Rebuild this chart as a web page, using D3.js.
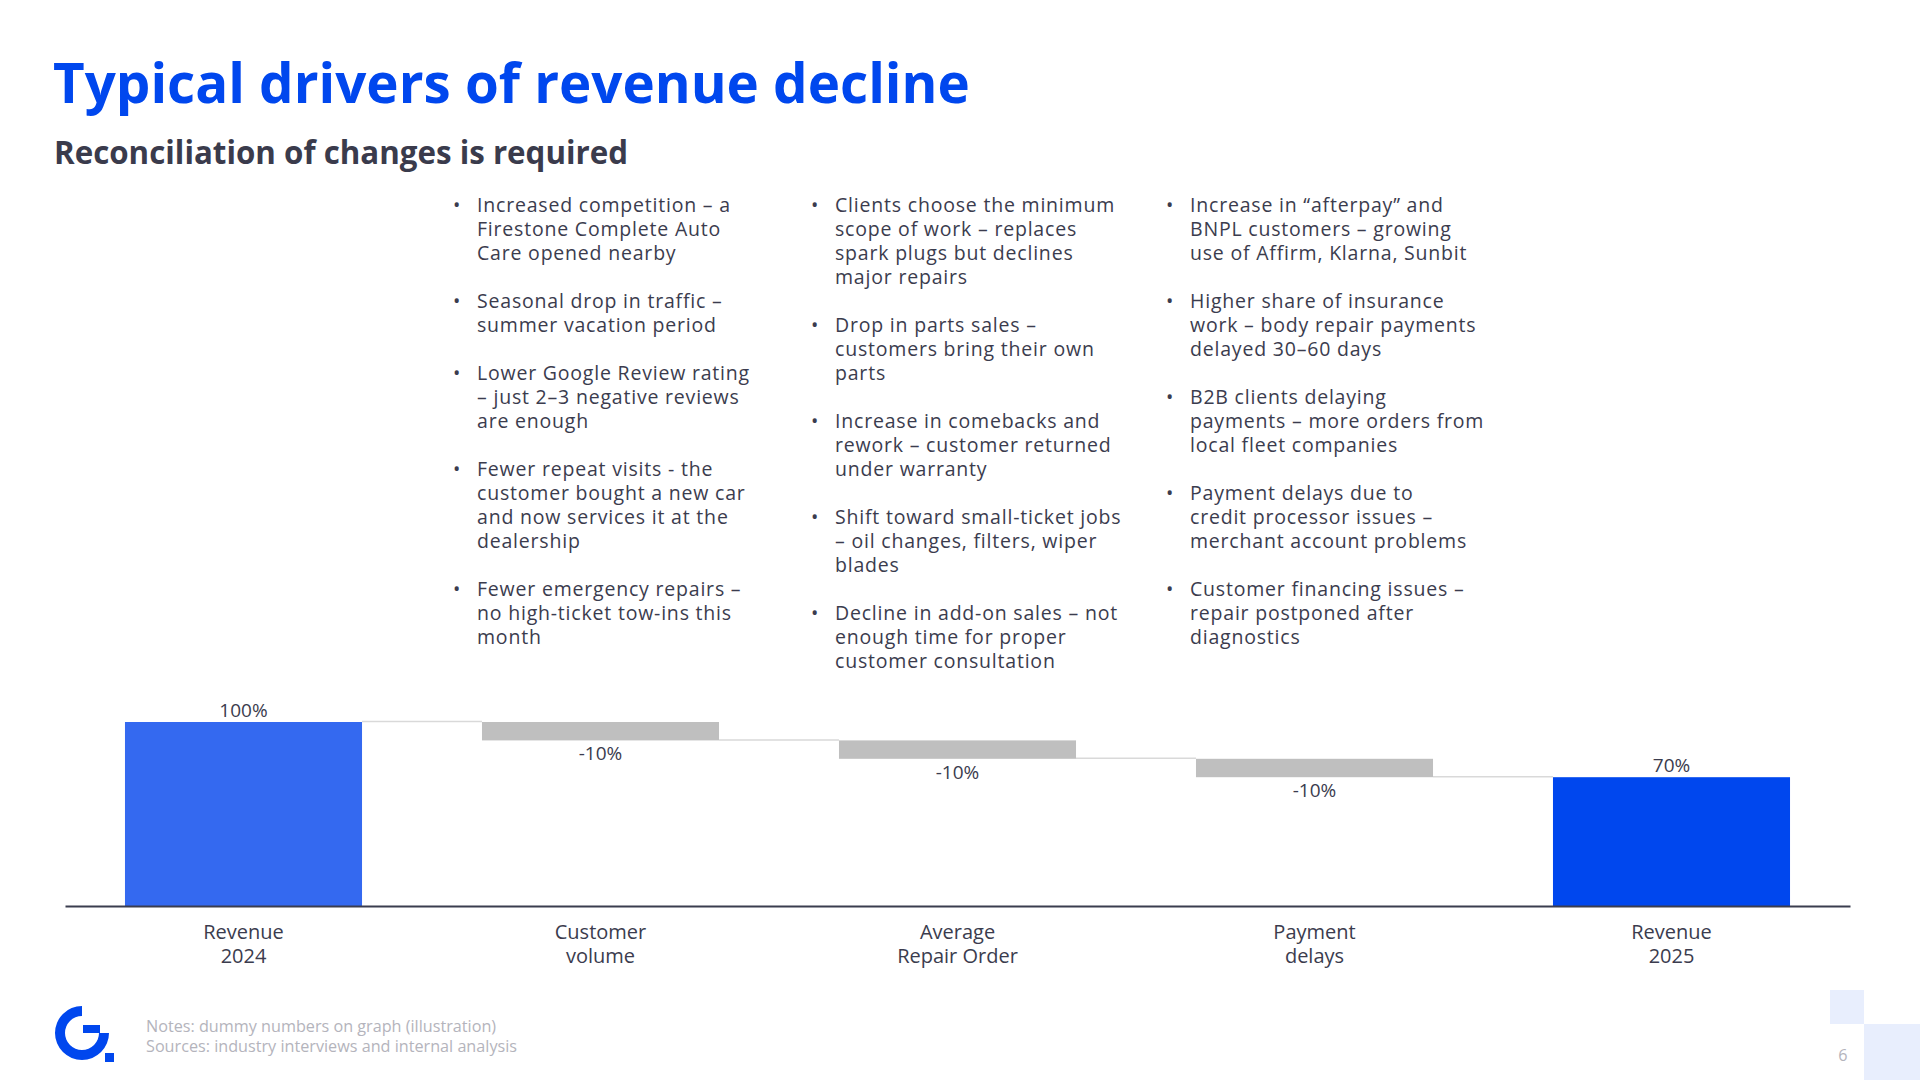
<!DOCTYPE html>
<html>
<head>
<meta charset="utf-8">
<script src="https://cdn.jsdelivr.net/npm/d3@7"></script>
<style>
  body { margin: 0; background: #ffffff; }
  svg { display: block; font-family: "Open Sans", "DejaVu Sans", sans-serif; }
  .title { fill: #0047ee; font-weight: 700; font-size: 54.7px; }
  .subTitle { fill: #3a3b4c; font-weight: 700; font-size: 31.3px; }
  .bullet { fill: #3b3c4e; font-size: 19.5px; letter-spacing: 0.8px; }
  .valueLabel { fill: #3b3c4e; font-size: 19px; }
  .catLabel { fill: #3b3c4e; font-size: 20px; }
  .note { fill: #b4b4bc; font-size: 16.2px; }
</style>
</head>
<body>
<div id="chart"></div>
<script>
// chart data
const categories = [["Revenue", "2024"], ["Customer", "volume"], ["Average", "Repair Order"], ["Payment", "delays"], ["Revenue", "2025"]];
const values = [100, -10, -10, -10, 70];
const kinds = ["total", "delta", "delta", "delta", "total"];
const valueLabels = ["100%", "-10%", "-10%", "-10%", "70%"];

// driver bullets, one array per column (each bullet = its wrapped lines)
const column1 = [
    ["Increased competition – a", "Firestone Complete Auto", "Care opened nearby"],
    ["Seasonal drop in traffic –", "summer vacation period"],
    ["Lower Google Review rating", "– just 2–3 negative reviews", "are enough"],
    ["Fewer repeat visits - the", "customer bought a new car", "and now services it at the", "dealership"],
    ["Fewer emergency repairs –", "no high-ticket tow-ins this", "month"]
];
const column2 = [
    ["Clients choose the minimum", "scope of work – replaces", "spark plugs but declines", "major repairs"],
    ["Drop in parts sales –", "customers bring their own", "parts"],
    ["Increase in comebacks and", "rework – customer returned", "under warranty"],
    ["Shift toward small-ticket jobs", "– oil changes, filters, wiper", "blades"],
    ["Decline in add-on sales – not", "enough time for proper", "customer consultation"]
];
const column3 = [
    ["Increase in “afterpay” and", "BNPL customers – growing", "use of Affirm, Klarna, Sunbit"],
    ["Higher share of insurance", "work – body repair payments", "delayed 30–60 days"],
    ["B2B clients delaying", "payments – more orders from", "local fleet companies"],
    ["Payment delays due to", "credit processor issues –", "merchant account problems"],
    ["Customer financing issues –", "repair postponed after", "diagnostics"]
];
const notes = ["Notes: dummy numbers on graph (illustration)", "Sources: industry interviews and internal analysis"];

const width = 1920, height = 1080;
const svg = d3.select("#chart").append("svg").attr("width", width).attr("height", height);

svg.append("text").attr("class", "title").attr("x", 53).attr("y", 103).text("Typical drivers of revenue decline");
svg.append("text").attr("class", "subTitle").attr("x", 54).attr("y", 164).text("Reconciliation of changes is required");

// bullet columns: one text per bullet, lines as tspans
const lineH = 24.0;
const colX = [453, 811, 1166];
[column1, column2, column3].forEach((col, ci) => {
    let row = 0;
    const g = svg.append("g").attr("transform", `translate(${colX[ci]}, 212)`);
    col.forEach(b => {
        g.append("text").attr("class", "bullet").attr("x", 0).attr("y", row * lineH).text("•");
        g.append("text").attr("class", "bullet").attr("x", 24).attr("y", row * lineH)
            .selectAll("tspan").data(b).enter().append("tspan")
            .attr("x", 24).attr("dy", (d, i) => i == 0 ? 0 : lineH)
            .text(d => d);
        row += b.length + 1;
    });
});

// waterfall
let running = 0;
const steps = values.map((v, i) => {
    let s;
    if (kinds[i] == "total") { s = { start: 0, end: v }; running = v; }
    else { s = { start: running, end: running + v }; running += v; }
    return { name: categories[i], kind: kinds[i], label: valueLabels[i], start: s.start, end: s.end, idx: i };
});

const x = d3.scaleBand().domain(d3.range(categories.length)).range([65, 1850]).paddingInner(0.336).paddingOuter(0.168);
const y = d3.scaleLinear().domain([0, 100]).range([906, 722]);
const fills = ["#3469f0", "#bfbfbf", "#bfbfbf", "#bfbfbf", "#0047ee"];

// connectors
svg.selectAll("line.conn").data(steps.slice(0, -1)).enter().append("line")
    .attr("class", "conn")
    .attr("x1", d => x(d.idx) + x.bandwidth())
    .attr("x2", d => x(d.idx + 1))
    .attr("y1", d => y(d.end) - 0.5)
    .attr("y2", d => y(d.end) - 0.5)
    .style("stroke", "#d9d9d9").style("stroke-width", 1.5);

svg.selectAll("rect.bar").data(steps).enter().append("rect")
    .attr("class", "bar")
    .attr("x", d => x(d.idx))
    .attr("width", x.bandwidth())
    .attr("y", d => y(Math.max(d.start, d.end)))
    .attr("height", d => Math.abs(y(d.start) - y(d.end)))
    .style("fill", (d, i) => fills[i]);

svg.selectAll("text.valueLabel").data(steps).enter().append("text")
    .attr("class", "valueLabel")
    .attr("x", d => x(d.idx) + x.bandwidth() / 2)
    .attr("y", d => d.kind == "total" ? y(d.end) - 5 : y(Math.min(d.start, d.end)) + 20)
    .style("text-anchor", "middle")
    .text(d => d.label);

// axis baseline
const xAxis = d3.axisBottom(x).tickSize(0).tickFormat("");
const axisG = svg.append("g").attr("transform", `translate(0, ${y(0)})`).call(xAxis);
axisG.select(".domain").style("stroke", "#3a3d4f").style("stroke-width", 2);

svg.selectAll("text.catLabel").data(steps).enter().append("text")
    .attr("class", "catLabel")
    .attr("x", d => x(d.idx) + x.bandwidth() / 2)
    .attr("y", y(0) + 33)
    .style("text-anchor", "middle")
    .selectAll("tspan").data(d => d.name).enter().append("tspan")
    .attr("x", function () { return this.parentNode.getAttribute("x"); })
    .attr("dy", (d, i) => i == 0 ? 0 : 23.5)
    .text(d => d);

// footer: logo, notes, page number, corner squares
const logo = svg.append("g").attr("transform", "translate(82, 1033)");
logo.append("path").attr("d", d3.arc()({ innerRadius: 17, outerRadius: 27, startAngle: Math.PI / 2, endAngle: 2 * Math.PI })).style("fill", "#0047ee");
logo.append("rect").attr("x", 1).attr("y", -8).attr("width", 17).attr("height", 8).style("fill", "#0047ee");
logo.append("rect").attr("x", 23).attr("y", 20).attr("width", 9).attr("height", 9).style("fill", "#0047ee");

svg.append("text").attr("class", "note").attr("x", 146).attr("y", 1032)
    .selectAll("tspan").data(notes).enter().append("tspan")
    .attr("x", 146).attr("dy", (d, i) => i == 0 ? 0 : 19.5).text(d => d);

svg.append("rect").attr("x", 1830).attr("y", 990).attr("width", 34).attr("height", 34).style("fill", "#e8eefd");
svg.append("rect").attr("x", 1864).attr("y", 1024).attr("width", 56).attr("height", 56).style("fill", "#e8eefd");
svg.append("text").attr("class", "note").attr("x", 1843).attr("y", 1061).style("text-anchor", "middle").text("6");
</script>
</body>
</html>
